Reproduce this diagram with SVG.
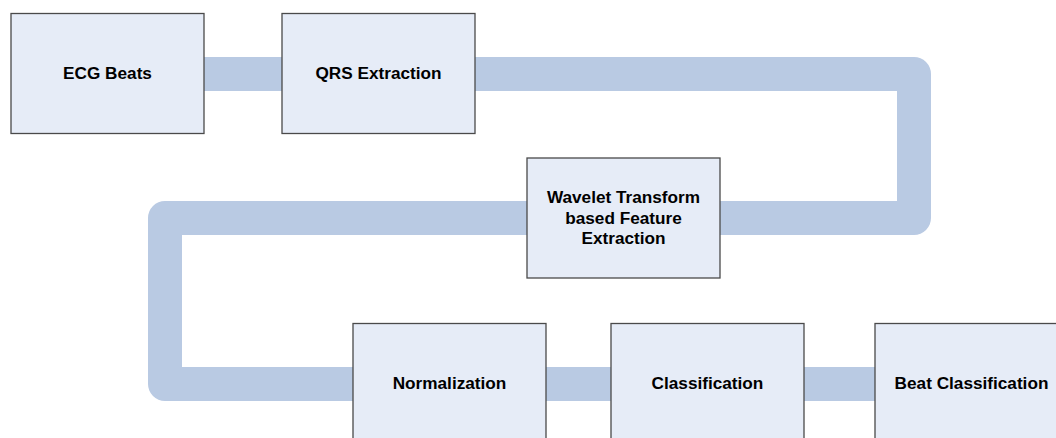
<svg xmlns="http://www.w3.org/2000/svg" width="1056" height="438" viewBox="0 0 1056 438">
<style>
.box{fill:#E6ECF7;stroke:#4a4a4a;stroke-width:1.3}
.lbl{font-family:"Liberation Sans",Arial,sans-serif;font-weight:bold;font-size:17.2px;fill:#000;text-anchor:middle;dominant-baseline:central}
</style>
<rect width="1056" height="438" fill="#fff"/>
<g id="connectors">
<path d="M204 74 H914 V218 H165 V384 H876" fill="none" stroke="#B9CAE3" stroke-width="34" stroke-linejoin="round"/>
</g>
<g id="ecg"><rect class="box" x="11" y="13.5" width="193" height="120"/><text class="lbl" x="107.5" y="73">ECG Beats</text></g>
<g id="qrs"><rect class="box" x="282" y="13.5" width="193" height="120"/><text class="lbl" x="378.5" y="73">QRS Extraction</text></g>
<g id="wavelet"><rect class="box" x="527" y="158" width="193" height="120"/><text class="lbl" x="623.5" y="197">Wavelet Transform</text><text class="lbl" x="623.5" y="217.5">based Feature</text><text class="lbl" x="623.5" y="238">Extraction</text></g>
<g id="norm"><rect class="box" x="353" y="323.5" width="193" height="120"/><text class="lbl" x="449.5" y="383">Normalization</text></g>
<g id="class"><rect class="box" x="611" y="323.5" width="193" height="120"/><text class="lbl" x="707.5" y="383">Classification</text></g>
<g id="beat"><rect class="box" x="875" y="323.5" width="193" height="120"/><text class="lbl" x="971.5" y="383">Beat Classification</text></g>
</svg>
